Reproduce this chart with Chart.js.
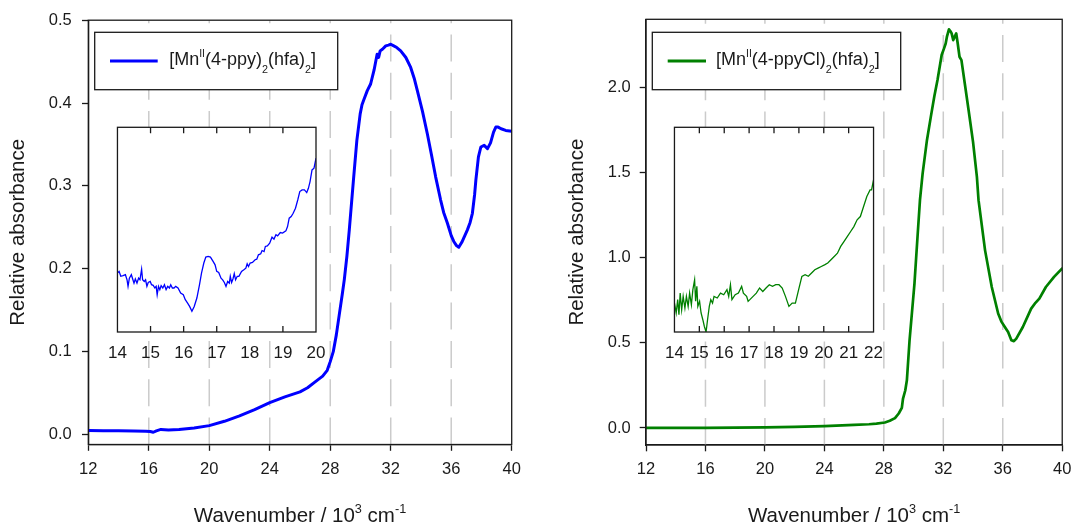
<!DOCTYPE html>
<html>
<head>
<meta charset="utf-8">
<script src="https://cdn.jsdelivr.net/npm/chart.js@4.4.1/dist/chart.umd.min.js"></script>
<style>
  html, body { margin:0; padding:0; background:#fff; }
  #wrap { position:relative; width:1080px; height:523px; overflow:hidden; }
  canvas { position:absolute; }
</style>
</head>
<body>
<div id="wrap">
  <canvas id="mainL" width="540" height="523" style="left:0;top:0;width:540px;height:523px"></canvas>
  <canvas id="mainR" width="540" height="523" style="left:540px;top:0;width:540px;height:523px"></canvas>
  <canvas id="insetL" width="240" height="260" style="left:97px;top:117px;width:240px;height:260px"></canvas>
  <canvas id="insetR" width="240" height="260" style="left:654px;top:117px;width:240px;height:260px"></canvas>
</div>
<script>
// ---------------- DATA ----------------
const xTicksMain = [12, 16, 20, 24, 28, 32, 36, 40];
const gridLinesMain = [16, 20, 24, 28, 32, 36];
const yTicksLeft = [0.0, 0.1, 0.2, 0.3, 0.4, 0.5];
const yTicksRight = [0.0, 0.5, 1.0, 1.5, 2.0];
const xTicksInsetL = [14, 15, 16, 17, 18, 19, 20];
const xTicksInsetR = [14, 15, 16, 17, 18, 19, 20, 21, 22];

const seriesNameL = "[MnII(4-ppy)2(hfa)2]";
const seriesNameR = "[MnII(4-ppyCl)2(hfa)2]";

// Main spectrum, 4-ppy (blue)
const blueX = [12, 13, 14, 15, 15.8, 16.1, 16.3, 16.5, 16.8, 17.3, 18, 19, 20, 21, 22, 23, 24, 25, 26, 26.5, 27, 27.5, 27.8,
  28.0, 28.2, 28.4, 28.6, 28.8, 28.93, 29.1, 29.26, 29.53, 29.76, 29.98, 30.1, 30.24, 30.45, 30.67, 30.9, 31.1, 31.2,
  31.3, 31.45, 31.67, 31.85, 32.0, 32.2, 32.4, 32.66, 33.0, 33.32, 33.55, 33.76, 34.1, 34.42, 34.7, 34.97, 35.3, 35.5,
  35.75, 36.0, 36.17, 36.35, 36.5, 36.7, 36.9, 37.07, 37.25, 37.4, 37.55, 37.63, 37.8, 37.96, 38.18, 38.4, 38.6, 38.8,
  38.95, 39.1, 39.3, 39.6, 40.0];
const blueY = [0.0048, 0.0047, 0.0045, 0.0043, 0.0041, 0.0036, 0.0028, 0.0045, 0.0062, 0.0055, 0.006, 0.0078, 0.0108, 0.016, 0.0225,
  0.030, 0.0385, 0.0455, 0.0515, 0.0565, 0.0635, 0.0705, 0.0775,
  0.088, 0.10, 0.12, 0.145, 0.17, 0.187, 0.215, 0.247, 0.306, 0.355, 0.387, 0.398, 0.405, 0.415, 0.423, 0.44, 0.459, 0.455,
  0.463, 0.465, 0.469, 0.470, 0.471, 0.469, 0.467, 0.463, 0.455, 0.443, 0.43, 0.415, 0.39, 0.363, 0.337, 0.311, 0.283, 0.268,
  0.255, 0.24, 0.233, 0.228, 0.226, 0.232, 0.24, 0.247, 0.256, 0.267, 0.29, 0.307, 0.335, 0.347, 0.349, 0.345, 0.352, 0.365,
  0.371, 0.371, 0.369, 0.367, 0.366];

// Main spectrum, 4-ppyCl (green)
const greenX = [12, 14, 16, 18, 20, 22, 24, 26, 27, 27.5, 28.07, 28.4, 28.75, 29.0, 29.21, 29.29, 29.44, 29.55, 29.73,
  30.06, 30.28, 30.43, 30.61, 30.9, 31.16, 31.4, 31.61, 31.89, 32.05, 32.16, 32.25, 32.38, 32.48, 32.56, 32.67, 32.78,
  32.87, 32.97, 33.09, 33.22, 33.45, 33.7, 34.0, 34.26, 34.37, 34.81, 35.26, 35.69, 35.92, 36.14, 36.36, 36.58, 36.75,
  36.91, 37.35, 37.91, 38.2, 38.46, 38.9, 39.45, 40.0];
const greenY = [0.0, 0.0, 0.001, 0.002, 0.003, 0.006, 0.011, 0.018, 0.022, 0.026, 0.032, 0.042, 0.058, 0.085, 0.118, 0.173,
  0.22, 0.28, 0.515,
  0.848, 1.142, 1.338, 1.495, 1.69, 1.827, 1.95, 2.043, 2.19, 2.229, 2.258, 2.30, 2.341, 2.33, 2.317, 2.278, 2.30,
  2.317, 2.258, 2.18, 2.16, 2.02, 1.867, 1.68, 1.475, 1.338, 1.043, 0.828, 0.672, 0.623, 0.593, 0.564, 0.515, 0.51,
  0.525, 0.593, 0.701, 0.735, 0.760, 0.828, 0.887, 0.937];

// Inset, 4-ppy (blue), relative units
const blueInsetX = [14.00, 14.05, 14.10, 14.17, 14.24, 14.29, 14.32, 14.36, 14.42, 14.46, 14.50, 14.54, 14.59, 14.64, 14.68,
  14.73, 14.76, 14.81, 14.85, 14.89, 14.93, 14.99, 15.03, 15.08, 15.13, 15.17, 15.20, 15.24, 15.28, 15.32, 15.37, 15.42,
  15.47, 15.52, 15.57, 15.61, 15.66, 15.71, 15.76, 15.83, 15.91, 15.99, 16.05, 16.12, 16.18, 16.25, 16.32, 16.40, 16.48,
  16.54, 16.61, 16.67, 16.74, 16.81, 16.89, 16.95, 17.00, 17.06, 17.13, 17.18, 17.23, 17.28, 17.33, 17.38, 17.41, 17.45,
  17.49, 17.53, 17.57, 17.62, 17.67, 17.75, 17.82, 17.88, 17.92, 17.96, 18.01, 18.08, 18.16, 18.21, 18.26, 18.33, 18.37,
  18.43, 18.47, 18.53, 18.60, 18.67, 18.73, 18.79, 18.84, 18.92, 18.99, 19.09, 19.14, 19.19, 19.25, 19.31, 19.38, 19.45,
  19.51, 19.58, 19.65, 19.72, 19.77, 19.82, 19.88, 19.94, 20.00];
const blueInsetY = [28.8, 29.6, 27.2, 27.5, 28.0, 25.5, 22.3, 26.3, 28.0, 25.9, 23.9, 25.9, 23.9, 26.3, 25.5,
  30.7, 25.5, 24.7, 25.5, 22.3, 24.2, 24.7, 23.1, 22.8, 21.5, 22.3, 18.2, 22.3, 20.7, 22.6, 21.5, 23.1,
  20.7, 22.3, 21.5, 23.1, 21.5, 21.5, 22.3, 21.5, 19.0, 18.2, 15.8, 14.1, 12.5, 10.1, 12.5, 16.6, 23.1,
  28.8, 33.7, 36.6, 36.9, 36.6, 34.5, 32.8, 29.6, 29.1, 26.3, 25.5, 24.2, 22.3, 24.7, 23.9, 27.2, 24.2,
  25.9, 28.5, 25.5, 27.2, 27.2, 29.6, 30.4, 31.2, 33.3, 32.0, 33.7, 34.0, 35.3, 35.6, 37.7, 38.2, 39.8,
  39.3, 41.8, 42.1, 43.4, 46.3, 45.4, 47.5, 47.0, 48.6, 48.3, 49.4, 51.5, 55.6, 56.4, 58.0, 60.5, 64.6,
  68.6, 69.4, 69.4, 68.1, 70.2, 73.5, 79.2, 80.0, 84.9];

// Inset, 4-ppyCl (green), relative units
const greenInsetX = [14.00, 14.07, 14.13, 14.18, 14.23, 14.29, 14.35, 14.42, 14.48, 14.55, 14.61, 14.68, 14.74, 14.81, 14.85,
  14.90, 14.94, 15.01, 15.07, 15.14, 15.20, 15.27, 15.33, 15.40, 15.46, 15.53, 15.59, 15.72, 15.85, 15.98, 16.11, 16.18,
  16.25, 16.31, 16.44, 16.57, 16.70, 16.77, 16.90, 16.96, 17.03, 17.16, 17.29, 17.42, 17.55, 17.68, 17.81, 17.94, 18.07,
  18.20, 18.33, 18.46, 18.60, 18.73, 18.86, 18.99, 19.12, 19.25, 19.38, 19.51, 19.64, 19.77, 19.90, 20.03, 20.16, 20.29,
  20.42, 20.55, 20.68, 20.81, 20.95, 21.08, 21.21, 21.34, 21.47, 21.60, 21.73, 21.86, 21.92, 22.00];
const greenInsetY = [14.1, 9.3, 15.8, 8.5, 19.0, 10.9, 17.4, 11.7, 17.4, 12.5, 19.0, 13.3, 20.7, 25.5, 15.0,
  22.3, 12.5, 15.0, 9.3, 6.0, 2.8, 0.0, 6.0, 12.5, 15.8, 14.1, 17.4, 16.6, 19.0, 18.2, 20.7, 17.4,
  23.1, 15.8, 18.2, 19.0, 22.3, 19.0, 17.4, 15.0, 15.8, 17.4, 19.0, 21.5, 19.8, 21.5, 23.1, 22.3, 23.1,
  23.1, 21.5, 17.4, 12.5, 14.1, 14.1, 20.7, 27.2, 28.0, 27.2, 28.8, 30.4, 31.2, 32.0, 32.8, 33.7, 35.3,
  36.9, 38.5, 41.8, 44.2, 46.7, 49.1, 51.5, 54.8, 56.4, 61.3, 66.2, 69.4, 69.4, 74.3];

// ---------------- STYLE / HELPERS ----------------
const FONT = "'Liberation Sans', Arial, Helvetica, sans-serif";
const INK = '#1a1a1a';
const toXY = (xs, ys) => xs.map((x, i) => ({ x, y: ys[i] }));

function drawRich(ctx, x, baseline, segs, size) {
  ctx.save();
  ctx.textAlign = 'left';
  ctx.textBaseline = 'alphabetic';
  ctx.fillStyle = INK;
  let cx = x;
  for (const s of segs) {
    let fs = size, dy = 0;
    if (s.sup) { fs = size * s.sup; dy = -size * 0.44; }
    if (s.sub) { fs = size * s.sub; dy = size * 0.42; }
    ctx.font = fs + 'px ' + FONT;
    ctx.fillText(s.t, cx, baseline + dy);
    cx += ctx.measureText(s.t).width;
  }
  ctx.restore();
  return cx - x;
}
function richWidth(ctx, segs, size) {
  let w = 0;
  ctx.save();
  for (const s of segs) {
    let fs = size;
    if (s.sup) fs = size * s.sup;
    if (s.sub) fs = size * s.sub;
    ctx.font = fs + 'px ' + FONT;
    w += ctx.measureText(s.t).width;
  }
  ctx.restore();
  return w;
}

const xTitleSegs = [{ t: 'Wavenumber / 10' }, { t: '3', sup: 0.62 }, { t: ' cm' }, { t: '-1', sup: 0.62 }];
const TITLE_SIZE = 20.5;

const mainPlugin = {
  id: 'mainDecor',
  beforeDatasetsDraw(chart, args, opts) {
    const { ctx, chartArea: a, scales } = chart;
    ctx.save();
    ctx.strokeStyle = '#cbcbcb';
    ctx.lineWidth = 1.5;
    ctx.setLineDash([27, 11.3]);
    for (const v of gridLinesMain) {
      const px = scales.x.getPixelForValue(v);
      ctx.beginPath();
      ctx.moveTo(px, a.bottom);
      ctx.lineTo(px, a.top);
      ctx.stroke();
    }
    ctx.restore();
  },
  afterDraw(chart, args, opts) {
    const { ctx, chartArea: a } = chart;
    ctx.save();
    ctx.strokeStyle = INK;
    ctx.lineWidth = 1.3;
    ctx.strokeRect(a.left, a.top, a.right - a.left, a.bottom - a.top);
    const lb = opts.legendBox;
    ctx.fillStyle = '#fff';
    ctx.fillRect(lb.x, lb.y, lb.w, lb.h);
    ctx.strokeRect(lb.x, lb.y, lb.w, lb.h);
    ctx.strokeStyle = opts.color;
    ctx.lineWidth = 3;
    ctx.beginPath();
    ctx.moveTo(lb.x + lb.lineStart, lb.y + lb.h / 2);
    ctx.lineTo(lb.x + lb.lineEnd, lb.y + lb.h / 2);
    ctx.stroke();
    ctx.restore();
    drawRich(ctx, lb.x + lb.textX, lb.y + 33, opts.legendSegs, 18);
    const tw = richWidth(ctx, xTitleSegs, TITLE_SIZE);
    drawRich(ctx, (a.left + a.right) / 2 - tw / 2, 522, xTitleSegs, TITLE_SIZE);
    ctx.save();
    ctx.translate(opts.yTitleX, (a.top + a.bottom) / 2);
    ctx.rotate(-Math.PI / 2);
    ctx.font = TITLE_SIZE + 'px ' + FONT;
    ctx.fillStyle = INK;
    ctx.textAlign = 'center';
    ctx.textBaseline = 'middle';
    ctx.fillText('Relative absorbance', 0, 0);
    ctx.restore();
  }
};

const insetPlugin = {
  id: 'insetDecor',
  beforeDraw(chart) {
    const { ctx, chartArea: a } = chart;
    ctx.save();
    ctx.fillStyle = '#fff';
    ctx.fillRect(a.left, a.top, a.right - a.left, a.bottom - a.top);
    ctx.restore();
  },
  afterDraw(chart) {
    const { ctx, chartArea: a, scales } = chart;
    ctx.save();
    ctx.strokeStyle = INK;
    ctx.lineWidth = 1.3;
    ctx.strokeRect(a.left, a.top, a.right - a.left, a.bottom - a.top);
    ctx.beginPath();
    for (const t of scales.x.ticks) {
      const px = scales.x.getPixelForValue(t.value);
      if (px <= a.left + 1 || px >= a.right - 1) continue;
      ctx.moveTo(px, a.bottom); ctx.lineTo(px, a.bottom - 6);
      ctx.moveTo(px, a.top); ctx.lineTo(px, a.top + 6);
    }
    ctx.stroke();
    ctx.restore();
  }
};

function mainConfig(xs, ys, color, width, yMin, yMax, yTicks, yWidth, rightPad, xHeight, name, legendSegs, legendBox, yTitleX, tickPad) {
  return {
    type: 'line',
    data: { datasets: [{ label: name, data: toXY(xs, ys), borderColor: color, borderWidth: width,
      pointRadius: 0, tension: 0, fill: false, borderJoinStyle: 'round', borderCapStyle: 'round' }] },
    options: {
      responsive: false, animation: false, devicePixelRatio: 1,
      layout: { padding: { left: 0, right: rightPad, top: 19.3, bottom: 0 } },
      plugins: { legend: { display: false }, tooltip: { enabled: false },
        mainDecor: { color, legendSegs, legendBox, yTitleX } },
      scales: {
        x: { type: 'linear', min: 12, max: 40,
          afterBuildTicks(s) { s.ticks = xTicksMain.map(v => ({ value: v })); },
          afterFit(s) { s.height = xHeight; },
          ticks: { font: { family: FONT, size: 16.5 }, color: INK, padding: 8.6, maxRotation: 0, autoSkip: false },
          grid: { drawOnChartArea: false, drawTicks: true, tickLength: 6.3, tickColor: INK, tickWidth: 1.3, color: INK },
          border: { display: true, color: INK, width: 1.3 } },
        y: { type: 'linear', min: yMin, max: yMax,
          afterBuildTicks(s) { s.ticks = yTicks.map(v => ({ value: v })); },
          afterFit(s) { s.width = yWidth; },
          ticks: { font: { family: FONT, size: 16.5 }, color: INK, padding: tickPad, callback: v => Number(v).toFixed(1) },
          grid: { drawOnChartArea: false, drawTicks: true, tickLength: 6.3, tickColor: INK, tickWidth: 1.3, color: INK },
          border: { display: true, color: INK, width: 1.3 } }
      }
    },
    plugins: [mainPlugin]
  };
}

function insetConfig(xs, ys, color, xMin, xMax, xTicks, leftPad, rightPad) {
  return {
    type: 'line',
    data: { datasets: [{ data: toXY(xs, ys), borderColor: color, borderWidth: 1.3,
      pointRadius: 0, tension: 0, fill: false }] },
    options: {
      responsive: false, animation: false, devicePixelRatio: 1,
      layout: { padding: { left: leftPad, right: rightPad, top: 10.3, bottom: 0 } },
      plugins: { legend: { display: false }, tooltip: { enabled: false } },
      scales: {
        x: { type: 'linear', min: xMin, max: xMax,
          afterBuildTicks(s) { s.ticks = xTicks.map(v => ({ value: v })); },
          afterFit(s) { s.height = 45; },
          ticks: { font: { family: FONT, size: 17 }, color: INK, padding: 11, maxRotation: 0, autoSkip: false },
          grid: { display: false, drawTicks: false },
          border: { display: false } },
        y: { type: 'linear', min: 0, max: 100, display: false }
      }
    },
    plugins: [insetPlugin]
  };
}

const segL = [{ t: '[Mn' }, { t: 'II', sup: 0.58 }, { t: '(4-ppy)' }, { t: '2', sub: 0.6 }, { t: '(hfa)' }, { t: '2', sub: 0.6 }, { t: ']' }];
const segR = [{ t: '[Mn' }, { t: 'II', sup: 0.58 }, { t: '(4-ppyCl)' }, { t: '2', sub: 0.6 }, { t: '(hfa)' }, { t: '2', sub: 0.6 }, { t: ']' }];

new Chart(document.getElementById('mainL'), mainConfig(blueX, blueY, '#0000ff', 3, -0.012, 0.5, yTicksLeft, 88.3, 28.3, 78.5,
  seriesNameL, segL, { x: 94.7, y: 32.3, w: 243, h: 57.4, lineStart: 15.3, lineEnd: 63, textX: 74.5 }, 18, 10.3));
new Chart(document.getElementById('mainR'), mainConfig(greenX, greenY, '#008000', 2.7, -0.10, 2.4, yTicksRight, 106, 11, 78,
  seriesNameR, segR, { x: 112.3, y: 32.3, w: 248.4, h: 57.4, lineStart: 15.4, lineEnd: 53.7, textX: 63.7 }, 37, 9));
new Chart(document.getElementById('insetL'), insetConfig(blueInsetX, blueInsetY, '#0000ff', 14, 20, xTicksInsetL, 15, 21));
new Chart(document.getElementById('insetR'), insetConfig(greenInsetX, greenInsetY, '#008000', 14, 22, xTicksInsetR, 15.3, 20.3));
</script>
</body>
</html>
